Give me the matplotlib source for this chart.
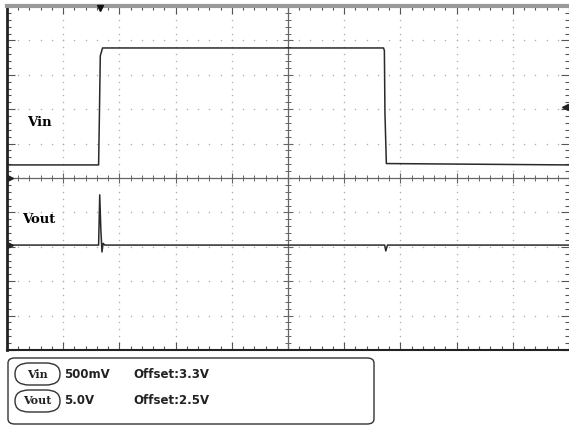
import matplotlib.pyplot as plt
import numpy as np
from matplotlib.patches import FancyBboxPatch

# scope traces, in screen divisions (x: 0..10, y: -5..5)
vin_t = [0, 1.63, 1.645, 1.66, 1.70, 6.70, 6.715, 6.725, 6.75, 10]
vin_y = [0.38, 0.38, 1.9, 3.55, 3.78, 3.78, 3.70, 1.9, 0.42, 0.38]
vout_t = [0, 1.63, 1.65, 1.67, 1.69, 1.71, 1.74, 6.72, 6.74, 6.77, 10]
vout_y = [-1.95, -1.95, -0.49, -1.5, -2.15, -1.9, -1.95, -1.95, -2.12, -1.95, -1.95]

trace_names = ['Vin', 'Vout']
trace_scale = ['500mV', '5.0V']
trace_offset = ['Offset:3.3V', 'Offset:2.5V']
trace_ground = [0.0, -1.95]
trig_time = 1.65
trig_level = 2.06

fig = plt.figure(figsize=(5.69, 4.25), dpi=100)
W, H = 569, 425
ax = fig.add_axes([7 / W, (H - 350) / H, 562 / W, 344 / H])
ax.set_xlim(0, 10)
ax.set_ylim(-5, 5)

# dotted graticule
minor = np.arange(0, 10.01, 0.2)
minor_y = np.arange(-5, 5.01, 0.2)
for gx in range(1, 10):
    if gx != 5:
        ax.scatter(np.full(minor_y.size, gx), minor_y, s=1.2, c='#b0b0b0', lw=0)
for gy in range(-4, 5):
    if gy != 0:
        ax.scatter(minor, np.full(minor.size, gy), s=1.2, c='#b0b0b0', lw=0)

# centre cross with ticks
ax.axvline(5, color='#666666', lw=0.9)
ax.axhline(0, color='#666666', lw=0.9)
ax.scatter(minor, np.zeros(minor.size), marker='|', s=14, c='#666666', lw=0.7)
ax.scatter(np.full(minor_y.size, 5), minor_y, marker='_', s=14, c='#666666', lw=0.7)
ax.scatter(np.arange(0, 11), np.zeros(11), marker='|', s=45, c='#666666', lw=0.8)
ax.scatter(np.full(11, 5), np.arange(-5, 6), marker='_', s=45, c='#666666', lw=0.8)

# traces
ax.plot(vin_t, vin_y, color='#2a2a2a', lw=1.1)
ax.plot(vout_t, vout_y, color='#2a2a2a', lw=1.1)

# frame
ax.set_xticks(range(0, 11))
ax.set_yticks(range(-5, 6))
ax.set_xticks(minor, minor=True)
ax.set_yticks(minor_y, minor=True)
ax.tick_params(which='both', direction='in', top=True, right=True,
               labelbottom=False, labelleft=False, color='#555555', width=0.8)
ax.tick_params(which='major', length=6)
ax.tick_params(which='minor', length=3)
ax.spines['left'].set_linewidth(2)
ax.spines['left'].set_color('#222222')
ax.spines['bottom'].set_linewidth(1.5)
ax.spines['bottom'].set_color('#222222')
ax.spines['top'].set_linewidth(3)
ax.spines['top'].set_color('#9a9a9a')
ax.spines['right'].set_visible(False)

# markers
for g in trace_ground:
    ax.plot(0.05, g, marker='>', ms=5, color='#222222', clip_on=False, zorder=5)
ax.plot(trig_time, 4.95, marker='v', ms=4, color='#111111', clip_on=False, zorder=5)
ax.plot(9.92, trig_level, marker='<', ms=5, color='#222222', clip_on=False, zorder=5)

# trace labels
ax.text(0.35, 1.5, trace_names[0], family='DejaVu Serif', weight='bold', fontsize=9.5)
ax.text(0.27, -1.3, trace_names[1], family='DejaVu Serif', weight='bold', fontsize=9.5)

# channel info box
box = FancyBboxPatch((8 / W, 1 / H), 366 / W, 66 / H, boxstyle='round,pad=0,rounding_size=0.012',
                     transform=fig.transFigure, fc='white', ec='#333333', lw=1)
fig.patches.append(box)
rows = [374, 401]
for name, sc, off, py in zip(trace_names, trace_scale, trace_offset, rows):
    yy = (H - py) / H
    pill = FancyBboxPatch((15 / W, yy - 11 / H), 45 / W, 22 / H,
                          boxstyle='round,pad=0,rounding_size=0.025',
                          transform=fig.transFigure, fc='white', ec='#333333', lw=1)
    fig.patches.append(pill)
    fig.text(37.5 / W, yy, name, family='DejaVu Serif', weight='bold', fontsize=8,
             ha='center', va='center', color='#222222')
    fig.text(64 / W, yy, sc, fontsize=8.5, weight='bold', va='center', color='#222222')
    fig.text(133 / W, yy, off, fontsize=8.5, weight='bold', va='center', color='#222222')

fig.savefig('out.png', dpi=100)
